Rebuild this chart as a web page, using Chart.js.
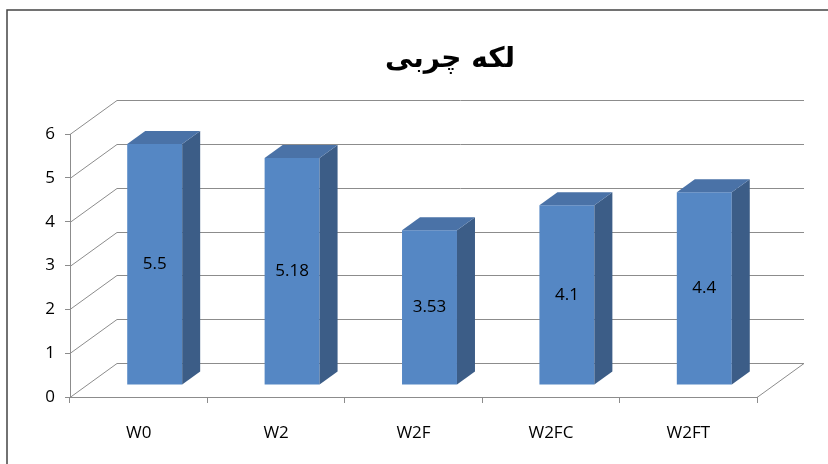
<!DOCTYPE html>
<html>
<head>
<meta charset="utf-8">
<script src="https://cdn.jsdelivr.net/npm/chart.js@4/dist/chart.umd.min.js"></script>
<style>
  html, body { margin: 0; padding: 0; background: #fff; }
  #wrap { width: 828px; height: 464px; position: relative; }
</style>
</head>
<body>
<div id="wrap"><canvas id="c" width="828" height="464"></canvas></div>
<script>
// data
const categories = ['W0', 'W2', 'W2F', 'W2FC', 'W2FT'];
const values = [5.5, 5.18, 3.53, 4.1, 4.4];
const yTicks = [0, 1, 2, 3, 4, 5, 6];
const titleText = 'لکه چربی';

// 3d look
const DEPTH = { dx: 47, dy: -34 };   // floor depth
const FRONT = { dx: 16, dy: -12 };   // bar front face offset
const SIDE  = { dx: 18, dy: -13 };   // bar thickness
const gridCol = '#8c8c8c';
const col = { front: '#5587c4', side: '#3c5d87', top: '#4a72a7' };

const fake3d = {
  id: 'fake3d',
  beforeDatasetsDraw(chart) {
    const { ctx, chartArea: a, scales: { y } } = chart;
    ctx.save();
    ctx.strokeStyle = gridCol;
    ctx.lineWidth = 1;
    ctx.beginPath();
    yTicks.forEach(v => {
      const py = Math.round(y.getPixelForValue(v)) + 0.5;
      ctx.moveTo(a.left, py);
      ctx.lineTo(a.left + DEPTH.dx, py + DEPTH.dy);
      ctx.lineTo(a.right + DEPTH.dx, py + DEPTH.dy);
    });
    const pb = Math.round(y.getPixelForValue(0)) + 0.5;
    ctx.moveTo(a.right, pb);
    ctx.lineTo(a.right + DEPTH.dx, pb + DEPTH.dy);
    ctx.stroke();
    ctx.restore();

    // bars shifted back into the floor
    ctx.save();
    ctx.translate(FRONT.dx, FRONT.dy);
  },
  afterDatasetsDraw(chart) {
    const { ctx } = chart;
    const meta = chart.getDatasetMeta(0);
    meta.data.forEach((bar, i) => {
      const l = bar.x - bar.width / 2, r = bar.x + bar.width / 2;
      const t = bar.y, b = bar.base;
      ctx.fillStyle = col.side;
      ctx.beginPath();
      ctx.moveTo(r, t); ctx.lineTo(r + SIDE.dx, t + SIDE.dy);
      ctx.lineTo(r + SIDE.dx, b + SIDE.dy); ctx.lineTo(r, b);
      ctx.closePath(); ctx.fill();
      ctx.fillStyle = col.top;
      ctx.beginPath();
      ctx.moveTo(l, t); ctx.lineTo(l + SIDE.dx, t + SIDE.dy);
      ctx.lineTo(r + SIDE.dx, t + SIDE.dy); ctx.lineTo(r, t);
      ctx.closePath(); ctx.fill();
      ctx.fillStyle = '#000';
      ctx.font = '17px "Open Sans", "DejaVu Sans", sans-serif';
      ctx.textAlign = 'center';
      ctx.textBaseline = 'middle';
      ctx.fillText(String(values[i]), bar.x, (t + b) / 2);
    });
    ctx.restore();
  },
  afterDraw(chart) {
    const { ctx } = chart;
    ctx.save();
    ctx.fillStyle = '#000';
    ctx.font = 'bold 28px "DejaVu Sans", sans-serif';
    ctx.textAlign = 'center';
    ctx.textBaseline = 'middle';
    ctx.direction = 'rtl';
    ctx.fillText(titleText, 450, 60);
    ctx.strokeStyle = '#444';
    ctx.lineWidth = 1.5;
    ctx.beginPath();
    ctx.moveTo(7, 470); ctx.lineTo(7, 10); ctx.lineTo(830, 10);
    ctx.stroke();
    ctx.restore();
  }
};

new Chart(document.getElementById('c'), {
  type: 'bar',
  data: {
    labels: categories,
    datasets: [{
      data: values,
      backgroundColor: col.front,
      borderWidth: 0,
      barPercentage: 0.8,
      categoryPercentage: 0.5,
    }],
  },
  options: {
    responsive: false, animation: false,
    layout: { padding: { top: 134, right: 71, left: 0, bottom: 0 } },
    plugins: { legend: { display: false }, tooltip: { enabled: false } },
    scales: {
      x: {
        afterFit(s) { s.height = 67; },
        grid: { drawOnChartArea: false, tickLength: 6, color: gridCol },
        border: { color: gridCol },
        ticks: { color: '#000', padding: 20, font: { size: 17, family: '"Open Sans", "DejaVu Sans", sans-serif' } },
      },
      y: {
        min: 0, max: 6,
        afterFit(s) { s.width = 70; },
        grid: { drawOnChartArea: false, tickLength: 5, color: gridCol },
        border: { color: gridCol },
        ticks: { stepSize: 1, color: '#000', padding: 10, font: { size: 17, family: '"Open Sans", "DejaVu Sans", sans-serif' } },
      },
    },
  },
  plugins: [fake3d],
});
</script>
</body>
</html>
